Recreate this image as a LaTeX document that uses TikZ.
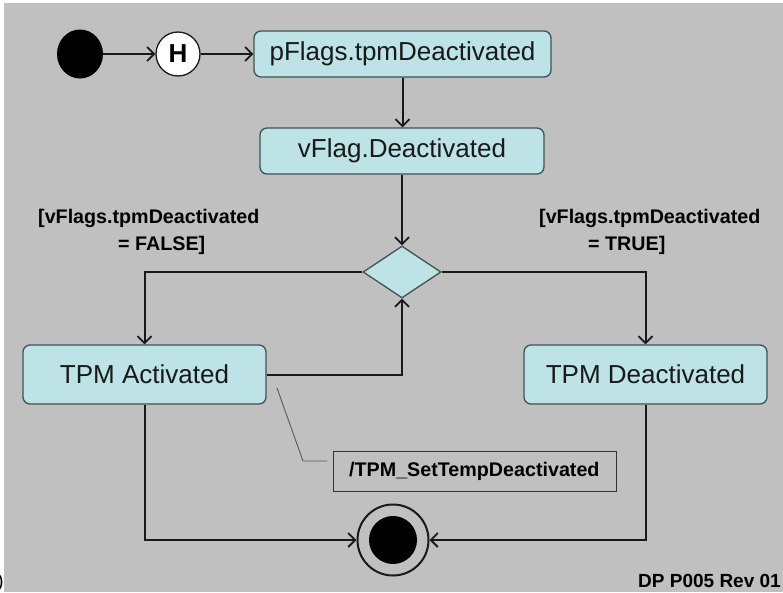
\documentclass[tikz,border=0pt]{standalone}
\usepackage{fontspec}
\setmainfont{Liberation Sans}
\usetikzlibrary{arrows.meta,shapes.geometric}
\definecolor{bggray}{HTML}{C0C0C0}
\definecolor{boxfill}{HTML}{BDE3E6}
\definecolor{boxline}{HTML}{3F5254}
\tikzset{
  statebox/.style={draw=boxline, line width=1.3pt, fill=boxfill, rounded corners=7pt,
    inner sep=0pt, font=\fontsize{26}{28}\selectfont, text=black!90},
  conn/.style={line width=2pt, draw=black!90},
  arr/.style={conn, -{Straight Barb[length=7pt,width=14pt,line width=1.8pt]}},
  guard/.style={font=\bfseries\fontsize{19.7}{21}\selectfont, inner sep=0pt},
}
\begin{document}
\begin{tikzpicture}[x=1pt,y=-1pt]
\useasboundingbox (0,0) rectangle (783,592);
\fill[white] (0,0) rectangle (783,592);
\fill[bggray] (4,3) rectangle (783,592);

\node[ellipse, fill=black, minimum width=46pt, minimum height=49pt, inner sep=0pt] (init) at (80,54) {};
\node[circle, draw=black!90, line width=1.3pt, fill=white, minimum size=44pt, inner sep=0pt,
      font=\bfseries\fontsize{26}{28}\selectfont] (hist) at (178,54) {H};
\node[statebox, minimum width=297pt, minimum height=46pt] (p) at (402.5,54) {pFlags.tpmDeactivated};
\node[statebox, minimum width=284pt, minimum height=46pt] (v) at (402,151) {vFlag.Deactivated};
\node[diamond, draw=boxline, line width=1.3pt, fill=boxfill, minimum width=78pt, minimum height=52pt,
      inner sep=0pt] (d) at (402,272) {};
\node[statebox, minimum width=243pt, minimum height=59pt] (a) at (144.5,374.5) {TPM Activated};
\node[statebox, minimum width=243pt, minimum height=59pt] (dd) at (645.5,374.5) {TPM Deactivated};
\node[circle, draw=black!90, line width=2pt, fill=bggray, minimum size=71pt, inner sep=0pt] (f) at (393,540) {};
\node[circle, fill=black, minimum size=48pt, inner sep=0pt] (fin) at (f.center) {};
\node[draw=black!80, line width=0.9pt, minimum width=283pt, minimum height=40pt, inner sep=0pt] (note) at (474.5,471) {};
\node[guard, anchor=base west] (nt) at (349,476) {/TPM\_SetTempDeactivated};

\node[guard, anchor=base west] (g1a) at (38,223) {[vFlags.tpmDeactivated};
\node[guard, anchor=base west] (g1b) at (118,250) {= FALSE]};
\node[guard, anchor=base west] (g2a) at (539,223) {[vFlags.tpmDeactivated};
\node[guard, anchor=base west] (g2b) at (588,250) {= TRUE]};
\node[guard, font=\bfseries\fontsize{19}{21}\selectfont, anchor=base east] (rev) at (781,587) {DP P005 Rev 01};
\node[guard, font=\fontsize{19}{21}\selectfont, anchor=base east] (cut) at (4,587) {0)};

\draw[arr] (init.east) -- (hist.west);
\draw[arr] (hist.east) -- (p.west);
\draw[arr] (p.south) -- (p.south |- v.north);
\draw[arr] (v.south) -- (d.north);
\draw[arr] (d.west) -| (a.north);
\draw[arr] (d.east) -| (dd.north);
\draw[arr] (a.east) -| (d.south);
\draw[arr] (a.south) |- (f.west);
\draw[arr] (dd.south) |- (f.east);

\coordinate (n1) at (277,388);
\coordinate (n2) at (303,461);
\coordinate (n3) at (327,461);
\draw[black!65, line width=0.9pt] (n1) -- (n2) -- (n3);
\end{tikzpicture}
\end{document}
